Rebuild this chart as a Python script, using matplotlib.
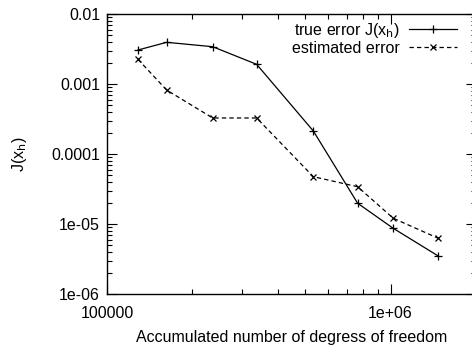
import matplotlib
matplotlib.use('Agg')
import matplotlib.pyplot as plt
from matplotlib.ticker import LogLocator, FixedLocator, FixedFormatter, NullFormatter

plt.rcParams.update({
    'font.family': ['Liberation Sans', 'DejaVu Sans'],
    'font.size': 11.5,
    'axes.linewidth': 1.0,
    'xtick.direction': 'in',
    'ytick.direction': 'in',
    'xtick.top': True,
    'ytick.right': True,
    'xtick.major.size': 7,
    'ytick.major.size': 7,
    'xtick.minor.size': 3.5,
    'ytick.minor.size': 3.5,
})

# accumulated degrees of freedom
dofs = [1.286e5, 1.623e5, 2.358e5, 3.37e5, 5.34e5, 7.65e5, 1.021e6, 1.472e6]
# true error J(x_h)
true_err = [3.06e-3, 3.94e-3, 3.41e-3, 1.91e-3, 2.13e-4, 1.98e-5, 8.69e-6, 3.49e-6]
# estimated error
est_err = [2.25e-3, 8.2e-4, 3.27e-4, 3.27e-4, 4.74e-5, 3.41e-5, 1.21e-5, 6.25e-6]

xticks = [1e5, 1e6]
xtick_labels = ['100000', '1e+06']
yticks = [1e-6, 1e-5, 1e-4, 1e-3, 1e-2]
ytick_labels = ['1e-06', '1e-05', '0.0001', '0.001', '0.01']

fig = plt.figure(figsize=(4.72, 3.47), dpi=100)
# axes runs a little past the right edge of the picture, like the original
ax = fig.add_axes([107/472, 53/347, 369/472, 280/347])

ax.plot(dofs, true_err, color='black', lw=0.9, marker='+', ms=6, mew=0.9,
        label='true error J(x$_\\mathrm{h}$)')
ax.plot(dofs, est_err, color='black', lw=0.9, ls=(0, (3.5, 2.5)), marker='x', ms=5, mew=0.9,
        label='estimated error')

ax.set_xscale('log')
ax.set_yscale('log')
ax.set_xlim(1e5, 2e6)
ax.set_ylim(1e-6, 1e-2)

ax.xaxis.set_major_locator(FixedLocator(xticks))
ax.xaxis.set_major_formatter(FixedFormatter(xtick_labels))
ax.xaxis.set_minor_locator(LogLocator(base=10, subs=range(2, 10)))
ax.xaxis.set_minor_formatter(NullFormatter())
ax.yaxis.set_major_locator(FixedLocator(yticks))
ax.yaxis.set_major_formatter(FixedFormatter(ytick_labels))
ax.yaxis.set_minor_locator(LogLocator(base=10, subs=range(2, 10)))
ax.yaxis.set_minor_formatter(NullFormatter())
ax.tick_params(which='both', width=0.8)
ax.tick_params(axis='x', which='major', pad=9)
ax.tick_params(axis='y', which='major', pad=5)

ax.set_xlabel('Accumulated number of degress of freedom', labelpad=6)
ax.set_ylabel('J(x$_\\mathrm{h}$)', labelpad=16)

leg = ax.legend(loc='upper right', bbox_to_anchor=(350/369, 0.975), frameon=False,
                markerfirst=False, handlelength=3.0, handletextpad=0.6,
                labelspacing=0.05, borderaxespad=0, borderpad=0)
for t in leg.get_texts():
    t.set_ha('right')

fig.savefig('out.png', dpi=100)
